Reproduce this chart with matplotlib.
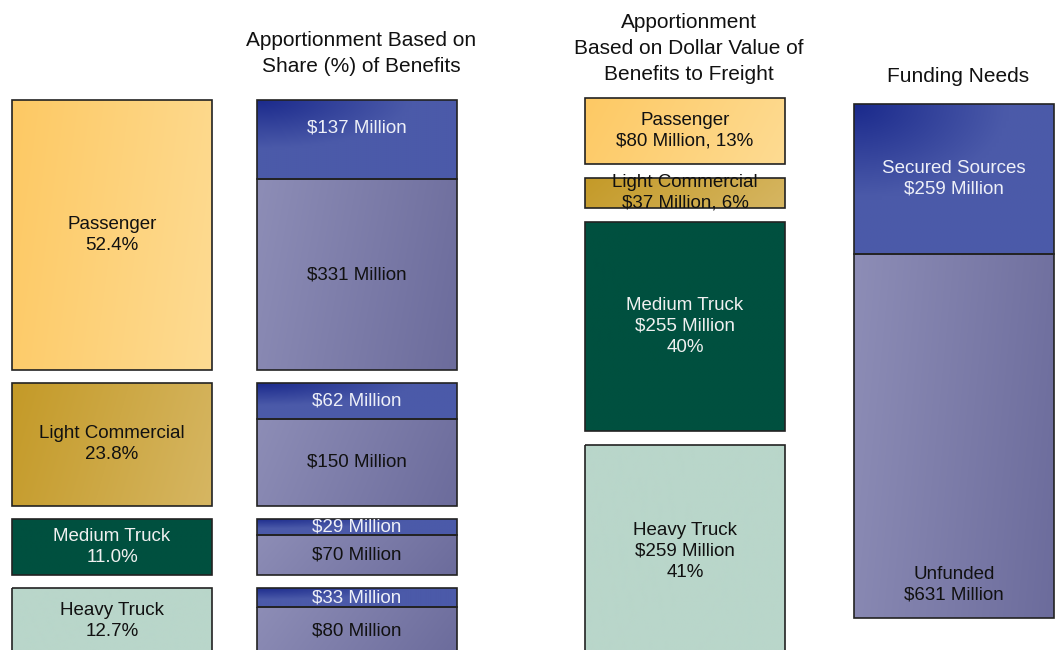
import numpy as np
import matplotlib.pyplot as plt
from matplotlib.colors import to_rgb

plt.rcParams['font.family'] = ['Liberation Sans Narrow', 'Liberation Sans', 'DejaVu Sans']

# Data
categories = ["Passenger", "Light Commercial", "Medium Truck", "Heavy Truck"]
share_pct = [52.4, 23.8, 11.0, 12.7]
secured_m = [137, 62, 29, 33]
unfunded_m = [331, 150, 70, 80]
freight_m = [80, 37, 255, 259]
freight_pct = [13, 6, 40, 41]
funding_labels = ["Secured Sources", "Unfunded"]
funding_m = [259, 631]

titles = ["", "Apportionment Based on\nShare (%) of Benefits",
          "Apportionment\nBased on Dollar Value of\nBenefits to Freight", "Funding Needs"]

# Styles
cat_colors = [("#FDC964", "#FEDB92"), ("#C49A28", "#D6B662"), ("#00503F", "#00503F"), ("#B9D6CA", "#B9D6CA")]
cat_text = ["#111111", "#111111", "#F0F0F0", "#111111"]
secured_colors = ("#1B2A8C", "#4B5AA9")
unfunded_colors = ("#8D8DB6", "#6C6C9C")

col_x = [12, 257, 585, 854]
col_w = 200

fig = plt.figure(figsize=(10.57, 6.5), dpi=100)
ax = fig.add_axes([0, 0, 1, 1])
ax.axis("off")


def gbar(x, bottom, height, colors, dark_corner=False):
    bars = ax.bar(x, height, width=col_w, bottom=bottom, align="edge",
                  facecolor="none", edgecolor="#222222", linewidth=1.2, zorder=3)
    patch = bars[0]
    c0, c1 = np.array(to_rgb(colors[0])), np.array(to_rgb(colors[1]))
    xx, yy = np.meshgrid(np.linspace(0, 1, 60), np.linspace(0, 1, 40))
    t = np.clip(xx * 0.85 + yy * 0.15, 0, 1)
    if dark_corner:
        t = np.clip(np.sqrt((xx * 1.3) ** 2 + (yy * 1.6) ** 2), 0, 1)
    img = c0 * (1 - t[..., None]) + c1 * t[..., None]
    im = ax.imshow(img, extent=(x, x + col_w, bottom + height, bottom),
                   aspect="auto", zorder=2, interpolation="bilinear")
    im.set_clip_path(patch)
    return patch


fs = 13.5
ls = 1.3

# Column 1 and 2: share of benefits
top, gap = 100, 13
px_per_pct = 270 / share_pct[0]
y = top
for i, cat in enumerate(categories):
    h = share_pct[i] * px_per_pct
    gbar(col_x[0], y, h, cat_colors[i])
    ax.text(col_x[0] + col_w / 2, y + h / 2, f"{cat}\n{share_pct[i]:.1f}%", ha="center", va="center",
            fontsize=fs, color=cat_text[i], zorder=4, linespacing=ls)
    tot = secured_m[i] + unfunded_m[i]
    hs = h * secured_m[i] / tot
    hu = h - hs
    gbar(col_x[1], y, hs, secured_colors, dark_corner=True)
    gbar(col_x[1], y + hs, hu, unfunded_colors)
    ax.text(col_x[1] + col_w / 2, y + min(hs / 2, 28), f"${secured_m[i]} Million", ha="center", va="center",
            fontsize=fs, color="#EEF0F8", zorder=4)
    ax.text(col_x[1] + col_w / 2, y + hs + hu / 2, f"${unfunded_m[i]} Million", ha="center", va="center",
            fontsize=fs, color="#111111", zorder=4)
    y += h + gap

# Column 3: dollar value of benefits to freight
top3, gap3 = 98, 14
px_per_m = 0.82
y = top3
for i, cat in enumerate(categories):
    h = freight_m[i] * px_per_m
    gbar(col_x[2], y, h, cat_colors[i])
    if freight_m[i] < 150:
        lbl = f"{cat}\n${freight_m[i]} Million, {freight_pct[i]}%"
    else:
        lbl = f"{cat}\n${freight_m[i]} Million\n{freight_pct[i]}%"
    ax.text(col_x[2] + col_w / 2, y + h / 2, lbl, ha="center", va="center",
            fontsize=fs, color=cat_text[i], zorder=4, linespacing=ls)
    y += h + gap3

# Column 4: funding needs
top4 = 104
px_per_m4 = 514 / sum(funding_m)
h0 = funding_m[0] * px_per_m4
h1 = funding_m[1] * px_per_m4
gbar(col_x[3], top4, h0, secured_colors, dark_corner=True)
gbar(col_x[3], top4 + h0, h1, unfunded_colors)
ax.text(col_x[3] + col_w / 2, top4 + h0 / 2, f"{funding_labels[0]}\n${funding_m[0]} Million",
        ha="center", va="center", fontsize=fs, color="#EEF0F8", zorder=4, linespacing=ls)
ax.text(col_x[3] + col_w / 2, top4 + h0 + h1 - 33, f"{funding_labels[1]}\n${funding_m[1]} Million",
        ha="center", va="center", fontsize=fs, color="#111111", zorder=4, linespacing=ls)

# Column titles
title_bottom = [0, 76, 84, 86]
for j in range(1, 4):
    ax.text(col_x[j] + col_w / 2 + 4, title_bottom[j], titles[j], ha="center", va="bottom",
            fontsize=15, color="#111111", linespacing=1.45)

ax.set_xlim(0, 1057)
ax.set_ylim(650, 0)
fig.savefig("out.png", dpi=100)
